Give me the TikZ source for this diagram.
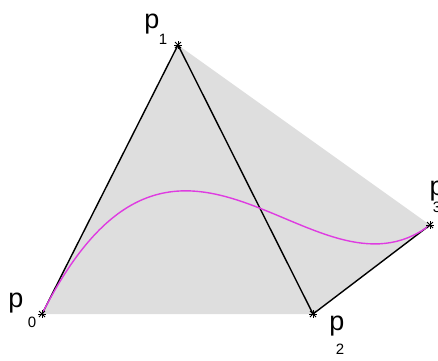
\documentclass[tikz,border=0pt]{standalone}
\usepackage{fontspec}
\setmainfont{Liberation Sans}
\definecolor{curvecol}{RGB}{222,60,225}
\tikzset{
  hull/.style={fill=black!13, draw=none},
  poly/.style={draw=black, line width=1.4pt, line join=round},
  bez/.style={draw=curvecol, line width=1.4pt},
  lbl/.style={inner sep=0pt, font=\fontsize{27}{30}\selectfont},
  subl/.style={inner sep=0pt, font=\fontsize{15}{17}\selectfont},
  starmark/.style={draw=black, line width=0.9pt}
}
\begin{document}
\begin{tikzpicture}[x=1pt,y=-1pt]
\useasboundingbox (0,0) rectangle (438,360);
\coordinate (p0) at (42,314);
\coordinate (p1) at (178,45);
\coordinate (p2) at (313,314);
\coordinate (p3) at (430,225);
\fill[hull] (p0) -- (p1) -- (p3) -- (p2) -- cycle;
\draw[poly] (p0) -- (p1) -- (p2) -- (p3);
\draw[bez] (p0) .. controls (p1) and (p2) .. (p3);
\foreach \p in {p0,p1,p2,p3}{
  \draw[starmark] ([shift={(-4,0)}]\p) -- ([shift={(4,0)}]\p);
  \draw[starmark] ([shift={(0,-4)}]\p) -- ([shift={(0,4)}]\p);
  \draw[starmark] ([shift={(-3,-3)}]\p) -- ([shift={(3,3)}]\p);
  \draw[starmark] ([shift={(-3,3)}]\p) -- ([shift={(3,-3)}]\p);
}
\node[lbl] (l0) at (16,303) {p};
\node[subl] (s0) at (32,322) {0};
\node[lbl] (l1) at (152,24) {p};
\node[subl] (s1) at (163,39) {1};
\node[lbl] (l2) at (337,326) {p};
\node[subl] (s2) at (340,349) {2};
\node[lbl] (l3) at (437,191) {p};
\node[subl] (s3) at (437,207) {3};
\end{tikzpicture}
\end{document}
